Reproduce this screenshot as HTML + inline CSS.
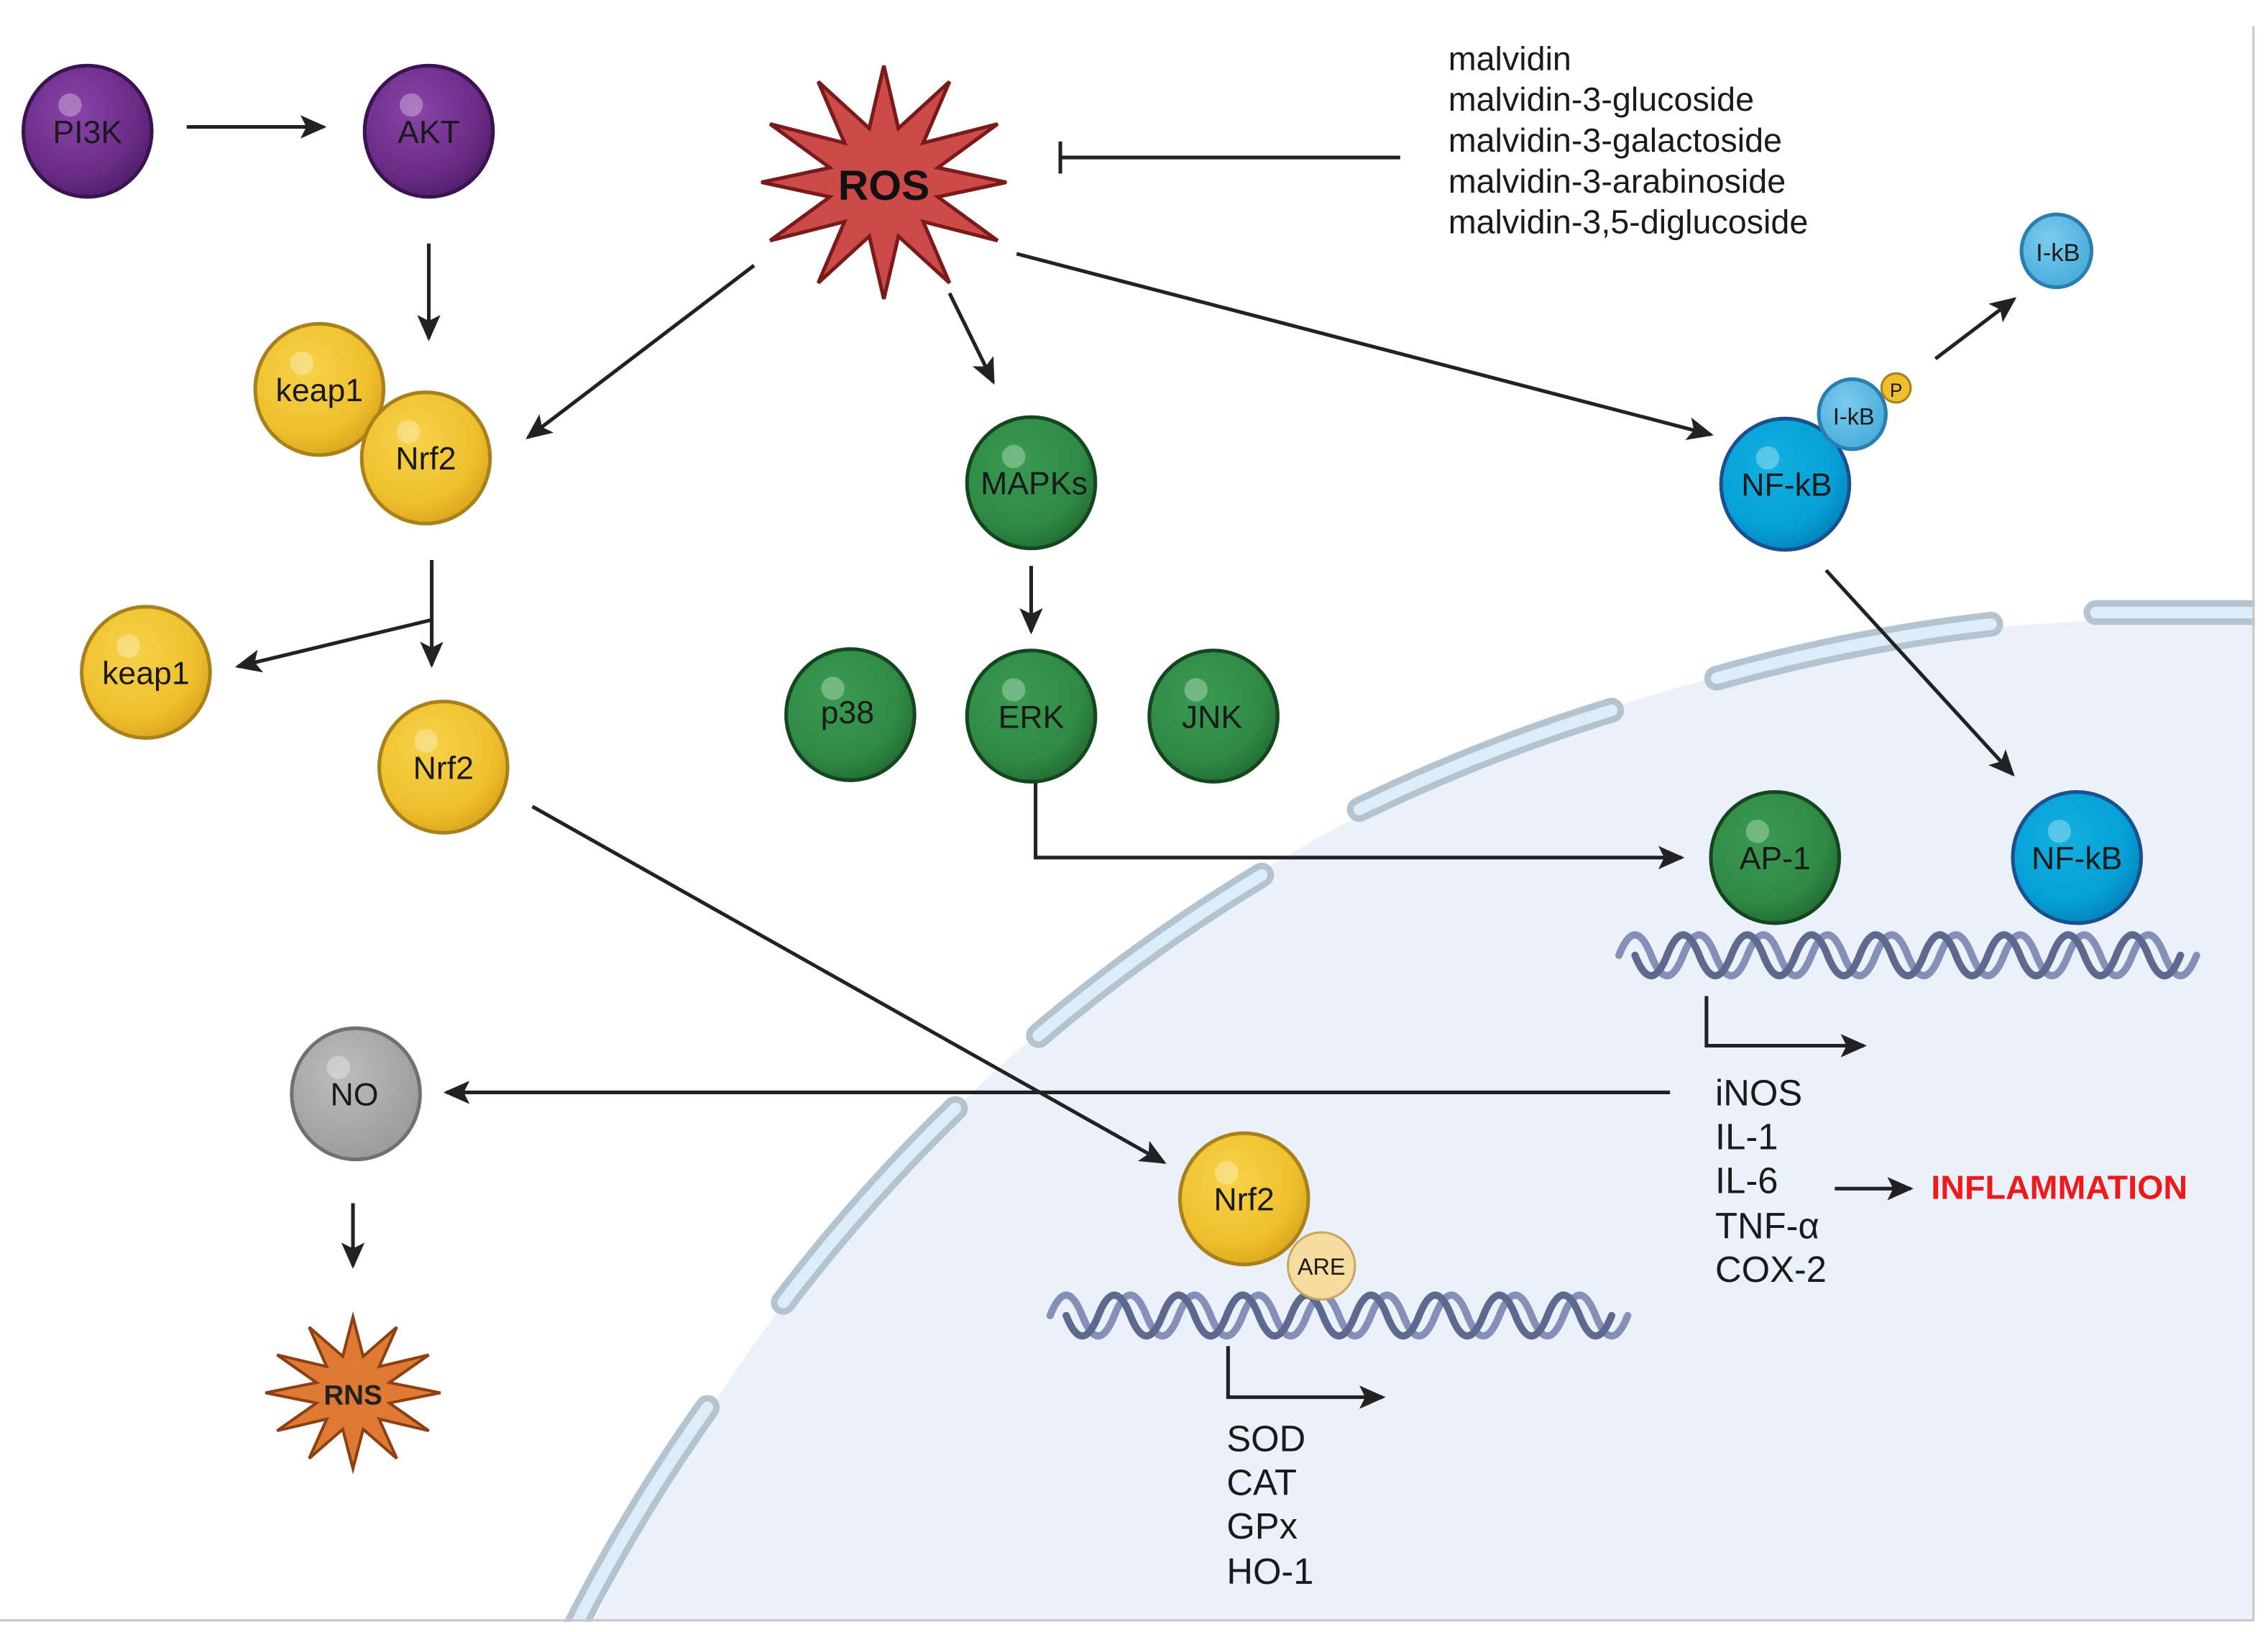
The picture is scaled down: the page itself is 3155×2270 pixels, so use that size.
<!DOCTYPE html>
<html><head><meta charset="utf-8"><style>
html,body{margin:0;padding:0;background:#fff;width:3155px;height:2270px;overflow:hidden;}
svg{display:block;position:absolute;left:0;top:0;}
text{font-family:"Liberation Sans",sans-serif;}
</style></head><body>
<svg width="3155" height="2270" viewBox="0 0 1555 1119" preserveAspectRatio="none" xmlns="http://www.w3.org/2000/svg">
<defs>
<radialGradient id="gP" cx="0.4" cy="0.35" r="0.7"><stop offset="0" stop-color="#8a44a8"/><stop offset="0.7" stop-color="#6a2c86"/><stop offset="1" stop-color="#4e1d66"/></radialGradient>
<radialGradient id="gY" cx="0.4" cy="0.35" r="0.7"><stop offset="0" stop-color="#f7d24a"/><stop offset="0.7" stop-color="#efc02e"/><stop offset="1" stop-color="#d9a41c"/></radialGradient>
<radialGradient id="gG" cx="0.4" cy="0.35" r="0.7"><stop offset="0" stop-color="#3a9a52"/><stop offset="0.7" stop-color="#2f8a45"/><stop offset="1" stop-color="#236a33"/></radialGradient>
<radialGradient id="gB" cx="0.4" cy="0.35" r="0.7"><stop offset="0" stop-color="#14b0e0"/><stop offset="0.7" stop-color="#05a0d6"/><stop offset="1" stop-color="#0680b8"/></radialGradient>
<radialGradient id="gL" cx="0.4" cy="0.35" r="0.7"><stop offset="0" stop-color="#7ccbee"/><stop offset="1" stop-color="#46abd9"/></radialGradient>
<radialGradient id="gN" cx="0.4" cy="0.35" r="0.7"><stop offset="0" stop-color="#bdbdbd"/><stop offset="1" stop-color="#9a9a9a"/></radialGradient>
<marker id="ahb" markerWidth="18" markerHeight="16" refX="16" refY="8" orient="auto" markerUnits="userSpaceOnUse" viewBox="0 0 18 16"><path d="M0,0 L18,8 L0,16 L4,8 z" fill="#222"/></marker>
</defs>

<circle cx="1478" cy="1603" r="1178" fill="#eaf1fa"/>
<g fill="none" stroke-linecap="round">
<g stroke="#b4c3d0" stroke-width="17">
<path d="M1560 420 L1437 420"/>
<path d="M1365 428 A1185 1185 0 0 0 1177 465"/>
<path d="M1105 487 A1185 1185 0 0 0 932 555"/>
<path d="M865 600 A1185 1185 0 0 0 712 710"/>
<path d="M655 760 A1185 1185 0 0 0 537 893"/>
<path d="M485 965 A1185 1185 0 0 0 392 1120"/>
</g>
<g stroke="#deebf8" stroke-width="8">
<path d="M1560 420 L1437 420"/>
<path d="M1365 428 A1185 1185 0 0 0 1177 465"/>
<path d="M1105 487 A1185 1185 0 0 0 932 555"/>
<path d="M865 600 A1185 1185 0 0 0 712 710"/>
<path d="M655 760 A1185 1185 0 0 0 537 893"/>
<path d="M485 965 A1185 1185 0 0 0 392 1120"/>
</g>
</g>
<rect x="1546" y="0" width="20" height="1119" fill="#fff"/>
<rect x="0" y="1112" width="1555" height="10" fill="#fff"/>
<line x1="1545" y1="18" x2="1545" y2="1111" stroke="#c8c8c8" stroke-width="1.5"/>
<line x1="0" y1="1111" x2="1545" y2="1111" stroke="#c8c8c8" stroke-width="1.5"/>

<g fill="none" stroke-width="5" stroke-linecap="round">
<path stroke="#8590b8" d="M1110 655 q11 -28 22 0 t22 0 t22 0 t22 0 t22 0 t22 0 t22 0 t22 0 t22 0 t22 0 t22 0 t22 0 t22 0 t22 0 t22 0 t22 0 t22 0 t22 0"/>
<path stroke="#5e6990" d="M1121 655 q11 28 22 0 t22 0 t22 0 t22 0 t22 0 t22 0 t22 0 t22 0 t22 0 t22 0 t22 0 t22 0 t22 0 t22 0 t22 0 t22 0 t22 0"/>
<path stroke="#8590b8" d="M720 902 q11 -28 22 0 t22 0 t22 0 t22 0 t22 0 t22 0 t22 0 t22 0 t22 0 t22 0 t22 0 t22 0 t22 0 t22 0 t22 0 t22 0 t22 0 t22 0"/>
<path stroke="#5e6990" d="M731 902 q11 28 22 0 t22 0 t22 0 t22 0 t22 0 t22 0 t22 0 t22 0 t22 0 t22 0 t22 0 t22 0 t22 0 t22 0 t22 0 t22 0 t22 0"/>
</g>

<g stroke="#222" stroke-width="2.5" fill="none">
<line x1="128" y1="87" x2="222" y2="87" marker-end="url(#ahb)"/>
<line x1="294" y1="167" x2="294" y2="232" marker-end="url(#ahb)"/>
<line x1="517" y1="182" x2="362" y2="300" marker-end="url(#ahb)"/>
<line x1="651" y1="201" x2="681" y2="262" marker-end="url(#ahb)"/>
<line x1="697" y1="174" x2="1173" y2="298" marker-end="url(#ahb)"/>
<line x1="960" y1="108" x2="727" y2="108"/>
<line x1="727" y1="97" x2="727" y2="119"/>
<line x1="1327" y1="246" x2="1381" y2="205" marker-end="url(#ahb)"/>
<line x1="296" y1="384" x2="296" y2="456" marker-end="url(#ahb)"/>
<line x1="296" y1="425" x2="163" y2="457" marker-end="url(#ahb)"/>
<line x1="707" y1="388" x2="707" y2="433" marker-end="url(#ahb)"/>
<polyline points="710,536 710,588 1153,588" marker-end="url(#ahb)"/>
<line x1="1252" y1="391" x2="1380" y2="531" marker-end="url(#ahb)"/>
<line x1="365" y1="553" x2="798" y2="797" marker-end="url(#ahb)"/>
<line x1="1145" y1="749" x2="306" y2="749" marker-end="url(#ahb)"/>
<line x1="242" y1="825" x2="242" y2="868" marker-end="url(#ahb)"/>
<polyline points="1170,683 1170,717 1278,717" marker-end="url(#ahb)"/>
<line x1="1258" y1="815" x2="1310" y2="815" marker-end="url(#ahb)"/>
<polyline points="842,923 842,958 948,958" marker-end="url(#ahb)"/>
</g>

<polygon points="606,45 616,88 651,56 633,98 684,85 643,115 690,125 643,135 684,165 633,152 651,194 616,162 606,205 596,162 561,194 579,152 528,165 569,135 522,125 569,115 528,85 579,98 561,56 596,88" fill="#cc4a4a" stroke="#7a1a1a" stroke-width="2.5"/>
<text x="606" y="137" font-size="29" font-weight="bold" text-anchor="middle" fill="#111">ROS</text>
<polygon points="242,903 249,930 272,910 260,937 294,929 267,948 302,955 267,962 294,981 260,973 272,1000 249,980 242,1007 235,980 212,1000 224,973 190,981 217,962 182,955 217,948 190,929 224,937 212,910 235,930" fill="#df7a34" stroke="#8e4012" stroke-width="2"/>
<text x="242" y="963" font-size="19" font-weight="bold" text-anchor="middle" fill="#222">RNS</text>

<g stroke-width="2.5">
<ellipse cx="60" cy="90" rx="44" ry="45" fill="url(#gP)" stroke="#3a1350"/>
<ellipse cx="294" cy="90" rx="44" ry="45" fill="url(#gP)" stroke="#3a1350"/>
<ellipse cx="219" cy="267" rx="44" ry="45" fill="url(#gY)" stroke="#a8801c"/>
<ellipse cx="292" cy="314" rx="44" ry="45" fill="url(#gY)" stroke="#a8801c"/>
<ellipse cx="100" cy="461" rx="44" ry="45" fill="url(#gY)" stroke="#a8801c"/>
<ellipse cx="304" cy="526" rx="44" ry="45" fill="url(#gY)" stroke="#a8801c"/>
<ellipse cx="707" cy="331" rx="44" ry="45" fill="url(#gG)" stroke="#14461f"/>
<ellipse cx="583" cy="490" rx="44" ry="45" fill="url(#gG)" stroke="#14461f"/>
<ellipse cx="707" cy="491" rx="44" ry="45" fill="url(#gG)" stroke="#14461f"/>
<ellipse cx="832" cy="491" rx="44" ry="45" fill="url(#gG)" stroke="#14461f"/>
<ellipse cx="1224" cy="332" rx="44" ry="45" fill="url(#gB)" stroke="#1b4f8f"/>
<ellipse cx="1270" cy="284" rx="23" ry="24" fill="url(#gL)" stroke="#2a7fb0"/>
<circle cx="1300" cy="266" r="10" fill="#efc02e" stroke="#a8801c" stroke-width="1.5"/>
<ellipse cx="1410" cy="172" rx="24" ry="25" fill="url(#gL)" stroke="#2a7fb0"/>
<ellipse cx="1217" cy="588" rx="44" ry="45" fill="url(#gG)" stroke="#14461f"/>
<ellipse cx="1424" cy="588" rx="44" ry="45" fill="url(#gB)" stroke="#1b4f8f"/>
<ellipse cx="244" cy="750" rx="44" ry="45" fill="url(#gN)" stroke="#707070"/>
<ellipse cx="853" cy="822" rx="44" ry="45" fill="url(#gY)" stroke="#a8801c"/>
<circle cx="906" cy="868" r="23" fill="#f6dc9e" stroke="#c9a560" stroke-width="1.5"/>
</g>
<g fill="#fff" opacity="0.3">
<circle cx="48" cy="72" r="8"/><circle cx="282" cy="72" r="8"/><circle cx="207" cy="249" r="8"/><circle cx="280" cy="296" r="8"/>
<circle cx="88" cy="443" r="8"/><circle cx="292" cy="508" r="8"/><circle cx="695" cy="313" r="8"/><circle cx="571" cy="472" r="8"/>
<circle cx="695" cy="473" r="8"/><circle cx="820" cy="473" r="8"/><circle cx="1212" cy="314" r="8"/><circle cx="1205" cy="570" r="8"/>
<circle cx="1412" cy="570" r="8"/><circle cx="232" cy="732" r="8"/><circle cx="841" cy="804" r="8"/>
</g>

<g font-size="22" fill="#1a1a1a" text-anchor="middle">
<text x="60" y="98">PI3K</text>
<text x="294" y="98">AKT</text>
<text x="219" y="275">keap1</text>
<text x="292" y="322">Nrf2</text>
<text x="100" y="469">keap1</text>
<text x="304" y="534">Nrf2</text>
<text x="709" y="339">MAPKs</text>
<text x="581" y="496">p38</text>
<text x="707" y="499">ERK</text>
<text x="831" y="499">JNK</text>
<text x="1225" y="340">NF-kB</text>
<text x="1271" y="291" font-size="16">I-kB</text>
<text x="1300" y="272" font-size="13">P</text>
<text x="1411" y="179" font-size="17">I-kB</text>
<text x="1217" y="596">AP-1</text>
<text x="1424" y="596">NF-kB</text>
<text x="243" y="758">NO</text>
<text x="853" y="830">Nrf2</text>
<text x="906" y="874" font-size="16">ARE</text>
</g>

<g font-size="23" fill="#1a1a1a">
<text x="993" y="48">malvidin</text>
<text x="993" y="76">malvidin-3-glucoside</text>
<text x="993" y="104">malvidin-3-galactoside</text>
<text x="993" y="132">malvidin-3-arabinoside</text>
<text x="993" y="160">malvidin-3,5-diglucoside</text>
</g>
<g font-size="25" fill="#1a1a1a">
<text x="1176" y="758">iNOS</text>
<text x="1176" y="788">IL-1</text>
<text x="1176" y="818">IL-6</text>
<text x="1176" y="849">TNF-α</text>
<text x="1176" y="879">COX-2</text>
<text x="841" y="995">SOD</text>
<text x="841" y="1025">CAT</text>
<text x="841" y="1055">GPx</text>
<text x="841" y="1086">HO-1</text>
</g>
<text x="1324" y="822" font-size="23" font-weight="bold" fill="#f01818">INFLAMMATION</text>
</svg>
</body></html>
